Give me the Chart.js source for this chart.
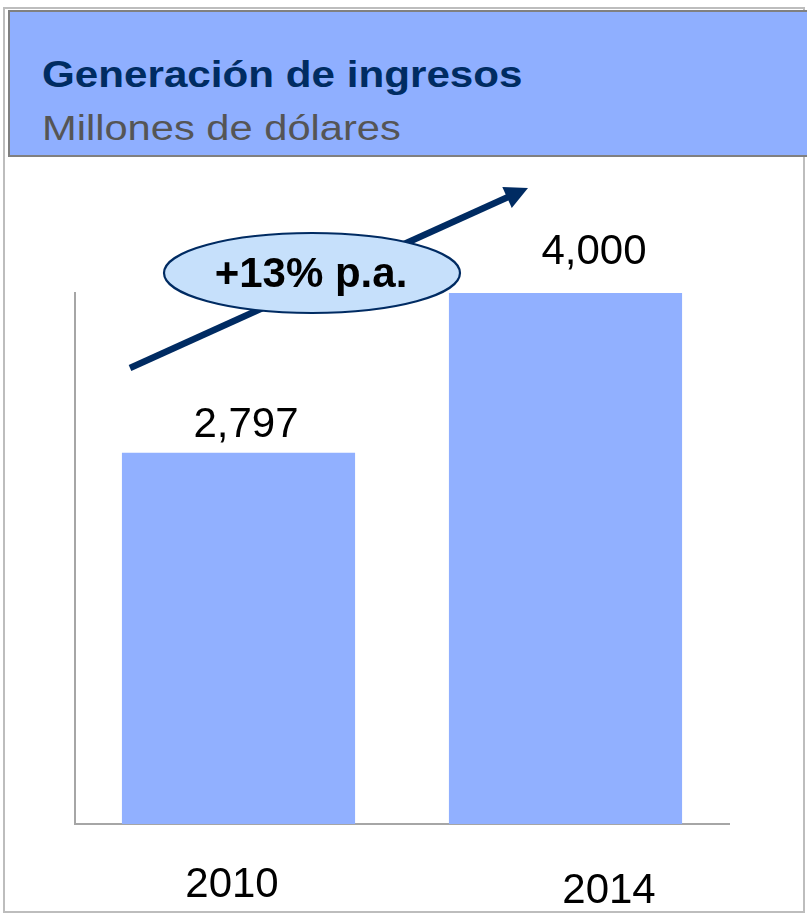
<!DOCTYPE html>
<html>
<head>
<meta charset="utf-8">
<script src="https://cdn.jsdelivr.net/npm/chart.js@4"></script>
<style>
  html, body { margin: 0; padding: 0; background: #fff; }
  body { width: 807px; height: 915px; position: relative; overflow: hidden; font-family: "Liberation Sans", Arial, sans-serif; }
  .frame { position: absolute; left: 3px; top: 7px; width: 802px; height: 906px; box-sizing: border-box; border: 2px solid #bdbdbd; }
  .header { position: absolute; left: 8px; top: 10px; width: 820px; height: 147px; box-sizing: border-box; border: 2px solid #808080; background: #8fafff; z-index: 2; }
  .title, .subtitle { position: absolute; left: 42px; line-height: 1; white-space: nowrap; transform-origin: 0 0; z-index: 3; }
  .title { top: 55.5px; font-size: 37px; font-weight: bold; color: #002c62; transform: scaleX(1.14); }
  .subtitle { top: 109.5px; font-size: 35px; color: #555555; transform: scaleX(1.19); }
  #wrap { position: absolute; left: 0; top: 0; width: 807px; height: 915px; z-index: 1; }
</style>
</head>
<body>
<div class="frame"></div>
<div class="header"></div>
<div class="title">Generación de ingresos</div>
<div class="subtitle">Millones de dólares</div>
<div id="wrap"><canvas id="chart" width="807" height="915"></canvas></div>
<script>
// data
const years = ['2010', '2014'];
const revenue = [2797, 4000];
const growthLabel = '+13% p.a.';

// small position tweaks so labels sit like in the source slide
const valueNudge = [[7.5, 16], [28.5, 29]];
const yearNudge = [[-6.5, 73], [43.5, 79]];

const navy = '#002b62';
const barBlue = '#91b0ff';

const decor = {
  id: 'decor',
  afterDatasetsDraw(chart) {
    const { ctx, chartArea: a, scales: { x } } = chart;
    const meta = chart.getDatasetMeta(0);
    ctx.save();

    // arrow
    const sx = a.left + 55, sy = a.top + 75;
    const tx = a.left + 453, ty = a.top - 105;
    const ang = Math.atan2(ty - sy, tx - sx);
    const headLen = 23, headHalf = 11.5;
    ctx.strokeStyle = navy;
    ctx.fillStyle = navy;
    ctx.lineWidth = 6.5;
    ctx.beginPath();
    ctx.moveTo(sx, sy);
    ctx.lineTo(tx - (headLen - 3) * Math.cos(ang), ty - (headLen - 3) * Math.sin(ang));
    ctx.stroke();
    const bx = tx - headLen * Math.cos(ang), by = ty - headLen * Math.sin(ang);
    ctx.beginPath();
    ctx.moveTo(tx, ty);
    ctx.lineTo(bx + headHalf * Math.sin(ang), by - headHalf * Math.cos(ang));
    ctx.lineTo(bx - headHalf * Math.sin(ang), by + headHalf * Math.cos(ang));
    ctx.closePath();
    ctx.fill();

    // ellipse with growth rate
    const ex = a.left + 237, ey = a.top - 20;
    ctx.beginPath();
    ctx.ellipse(ex, ey, 148, 40, 0, 0, Math.PI * 2);
    ctx.fillStyle = '#c6e0fb';
    ctx.fill();
    ctx.lineWidth = 2.2;
    ctx.strokeStyle = navy;
    ctx.stroke();
    ctx.fillStyle = '#000';
    ctx.textAlign = 'center';
    ctx.textBaseline = 'alphabetic';
    ctx.font = 'bold 42px "Liberation Sans", Arial, sans-serif';
    ctx.fillText(growthLabel, ex - 1, ey + 14);

    // value labels
    ctx.font = '42px "Liberation Sans", Arial, sans-serif';
    meta.data.forEach((bar, i) => {
      ctx.fillText(revenue[i].toLocaleString('en-US'), bar.x + valueNudge[i][0], bar.y - valueNudge[i][1]);
    });

    // year labels
    years.forEach((yr, i) => {
      ctx.fillText(yr, x.getPixelForValue(i) + yearNudge[i][0], a.bottom + yearNudge[i][1]);
    });
    ctx.restore();
  }
};

const zeroFit = (s) => { s.width = s.isHorizontal() ? s.width : 0; s.height = s.isHorizontal() ? 0 : s.height; };

new Chart(document.getElementById('chart'), {
  type: 'bar',
  data: {
    labels: years,
    datasets: [{
      data: revenue,
      backgroundColor: barBlue,
      borderWidth: 0,
      barPercentage: 0.713,
      categoryPercentage: 1
    }]
  },
  options: {
    responsive: false,
    animation: false,
    layout: { padding: { left: 75, right: 78, top: 293, bottom: 91 } },
    plugins: { legend: { display: false }, tooltip: { enabled: false } },
    scales: {
      x: {
        ticks: { display: false },
        grid: { display: false },
        border: { display: true, color: '#a6a6a6', width: 2 },
        afterFit: zeroFit
      },
      y: {
        min: 0,
        max: 4000,
        ticks: { display: false },
        grid: { display: false },
        border: { display: true, color: '#a6a6a6', width: 2 },
        afterFit: zeroFit
      }
    }
  },
  plugins: [decor]
});
</script>
</body>
</html>
